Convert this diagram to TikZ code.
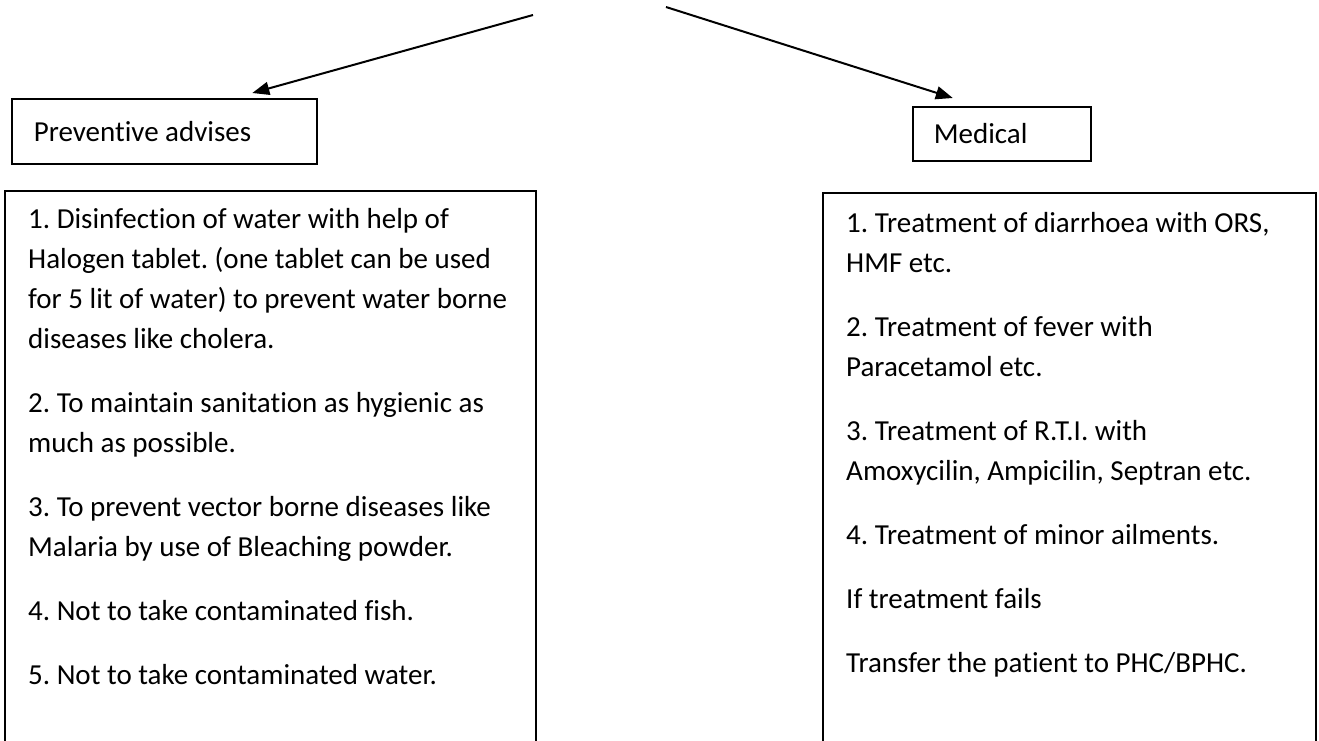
\documentclass[tikz,border=0pt]{standalone}
\usepackage{fontspec}
\setmainfont{Carlito}[Ligatures=NoCommon]
\usetikzlibrary{arrows.meta}
\frenchspacing
\tikzset{
  headbox/.style={draw, line width=1.6pt, align=flush left, inner ysep=0pt, font=\fontsize{29}{35}\selectfont},
  bodytext/.style={anchor=base west, inner sep=0pt, font=\fontsize{29}{35}\selectfont},
  bigbox/.style={line width=1.8pt},
  arr/.style={line width=2pt, -{Triangle[length=17pt,width=13pt]}}
}
\begin{document}
\begin{tikzpicture}[x=1pt,y=-1pt]
\fill[white] (0,0) rectangle (1319,740);
\useasboundingbox (0,0) rectangle (1319,740);

% heading boxes
\node[headbox, anchor=north west, text width=261pt, inner xsep=22pt, minimum height=65pt] (prev) at (11,98) {Preventive advises};
\node[headbox, anchor=north west, text width=136pt, inner xsep=21pt, minimum height=54pt] (med) at (912,106) {Medical};

% arrows
\coordinate (s1) at (533,15);
\coordinate (s2) at (666,7);
\draw[arr] (s1) -- ([shift={(88,-5)}]prev.north);
\draw[arr] (s2) -- ([shift={(-49,-8)}]med.north);

% big boxes (open at the bottom edge)
\draw[bigbox] (5,742) -- (5,191) -- (536,191) -- (536,742);
\draw[bigbox] (823,742) -- (823,193) -- (1316,193) -- (1316,742);

% left text
\node[bodytext] (l1) at (28,228) {1. Disinfection of water with help of};
\node[bodytext] (l2) at (28,268) {Halogen tablet. (one tablet can be used};
\node[bodytext] (l3) at (28,308) {for 5 lit of water) to prevent water borne};
\node[bodytext] (l4) at (28,348) {diseases like cholera.};
\node[bodytext] (l5) at (28,412) {2. To maintain sanitation as hygienic as};
\node[bodytext] (l6) at (28,452) {much as possible.};
\node[bodytext] (l7) at (28,516) {3. To prevent vector borne diseases like};
\node[bodytext] (l8) at (28,556) {Malaria by use of Bleaching powder.};
\node[bodytext] (l9) at (28,620) {4. Not to take contaminated fish.};
\node[bodytext] (l10) at (28,684) {5. Not to take contaminated water.};

% right text
\node[bodytext] (r1) at (846,232) {1. Treatment of diarrhoea with ORS,};
\node[bodytext] (r2) at (846,272) {HMF etc.};
\node[bodytext] (r3) at (846,336) {2. Treatment of fever with};
\node[bodytext] (r4) at (846,376) {Paracetamol etc.};
\node[bodytext] (r5) at (846,440) {3. Treatment of R.T.I. with};
\node[bodytext] (r6) at (846,480) {Amoxycilin, Ampicilin, Septran etc.};
\node[bodytext] (r7) at (846,544) {4. Treatment of minor ailments.};
\node[bodytext] (r8) at (846,608) {If treatment fails};
\node[bodytext] (r9) at (846,672) {Transfer the patient to PHC/BPHC.};
\end{tikzpicture}
\end{document}
